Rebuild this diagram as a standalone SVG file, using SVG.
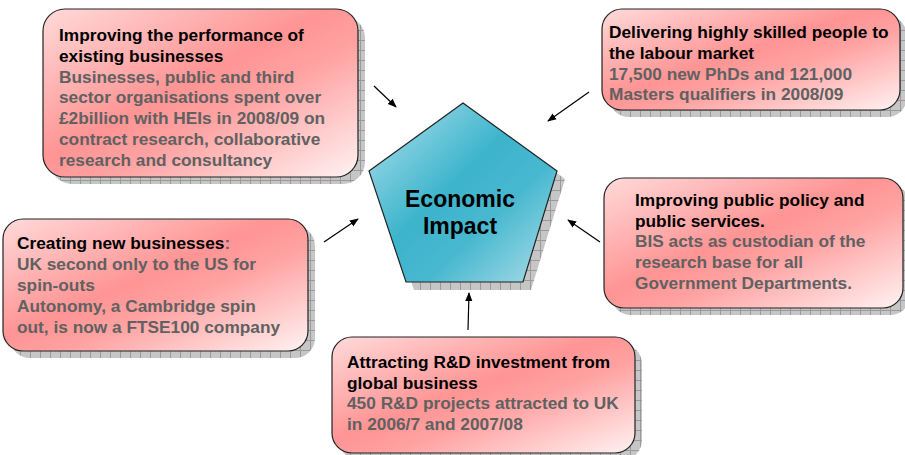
<svg xmlns="http://www.w3.org/2000/svg" width="905" height="455" viewBox="0 0 905 455">
<defs>
<linearGradient id="pink" x1="0" y1="0" x2="1" y2="1">
<stop offset="0" stop-color="#ffdada"/>
<stop offset="0.45" stop-color="#ff9494"/>
<stop offset="0.6" stop-color="#ffa2a2"/>
<stop offset="1" stop-color="#fff2f2"/>
</linearGradient>
<linearGradient id="teal" x1="0" y1="0" x2="1" y2="1">
<stop offset="0" stop-color="#b4e2ec"/>
<stop offset="0.45" stop-color="#3cb4cc"/>
<stop offset="0.65" stop-color="#48b8cf"/>
<stop offset="1" stop-color="#b0dfe9"/>
</linearGradient>
<pattern id="hatch" width="10" height="10" patternUnits="userSpaceOnUse">
<rect width="10" height="10" fill="#c6c6c6"/>
<path d="M0 0.5H10M0.5 0V10" stroke="#9a9a9a" stroke-width="1"/>
</pattern>
<marker id="ah" viewBox="0 0 10 10" refX="9" refY="5" markerWidth="9" markerHeight="9" markerUnits="userSpaceOnUse" orient="auto">
<path d="M0 1L10 5L0 9Z" fill="#000"/>
</marker>
</defs>
<style>
.box{fill:url(#pink);stroke:#222;stroke-width:1.2}
.sh{fill:url(#hatch)}
text{font-family:"Liberation Sans",Arial,sans-serif;font-weight:bold;font-size:17.3px}
.h{fill:#000}
.b{fill:#616161}
.arr{stroke:#000;stroke-width:1.2;fill:none;marker-end:url(#ah)}
</style>
<g id="connectors">
<line class="arr" x1="374" y1="86" x2="396" y2="107"/>
<line class="arr" x1="589" y1="92" x2="548" y2="121"/>
<line class="arr" x1="600" y1="242" x2="568" y2="220"/>
<line class="arr" x1="324" y1="242" x2="358" y2="219"/>
<line class="arr" x1="468" y1="330" x2="469" y2="293"/>
</g>
<g id="economic-impact">
<polygon class="sh" points="471,111 565,179 531,290 414,290 377,179"/>
<polygon points="463,103 557,171 523,282 406,282 369,171" fill="url(#teal)" stroke="#222" stroke-width="1.2"/>
<text x="460" y="207" text-anchor="middle" style="font-size:23px" class="h">Economic</text>
<text x="460" y="234" text-anchor="middle" style="font-size:23px" class="h">Impact</text>
</g>
<g id="existing-businesses">
<rect class="sh" x="50" y="16" width="315" height="168" rx="22"/>
<rect class="box" x="43" y="9" width="315" height="168" rx="22"/>
<text x="59" y="41" class="h">Improving the performance of</text>
<text x="59" y="62" class="h">existing businesses</text>
<text x="59" y="83" class="b">Businesses, public and third</text>
<text x="59" y="103" class="b">sector organisations spent over</text>
<text x="59" y="124" class="b">£2billion with HEIs in 2008/09 on</text>
<text x="59" y="145" class="b">contract research, collaborative</text>
<text x="59" y="166" class="b">research and consultancy</text>
</g>
<g id="skilled-people">
<rect class="sh" x="609" y="16" width="298" height="101" rx="20"/>
<rect class="box" x="602" y="9" width="298" height="101" rx="20"/>
<text x="609" y="38" class="h">Delivering highly skilled people to</text>
<text x="609" y="59" class="h">the labour market</text>
<text x="609" y="80" class="b">17,500 new PhDs and 121,000</text>
<text x="609" y="100" class="b">Masters qualifiers in 2008/09</text>
</g>
<g id="new-businesses">
<rect class="sh" x="10" y="226" width="305" height="132" rx="20"/>
<rect class="box" x="3" y="219" width="305" height="132" rx="20"/>
<text x="17" y="249"><tspan class="h">Creating new businesses</tspan><tspan class="b">:</tspan></text>
<text x="17" y="270" class="b">UK second only to the US for</text>
<text x="17" y="291" class="b">spin-outs</text>
<text x="17" y="312" class="b">Autonomy, a Cambridge spin</text>
<text x="17" y="333" class="b">out, is now a FTSE100 company</text>
</g>
<g id="public-policy">
<rect class="sh" x="611" y="185" width="299" height="130" rx="20"/>
<rect class="box" x="604" y="178" width="299" height="130" rx="20"/>
<text x="635" y="206" class="h">Improving public policy and</text>
<text x="635" y="227" class="h">public services.</text>
<text x="635" y="247" class="b">BIS acts as custodian of the</text>
<text x="635" y="268" class="b">research base for all</text>
<text x="635" y="289" class="b">Government Departments.</text>
</g>
<g id="rd-investment">
<rect class="sh" x="339" y="344" width="303" height="116" rx="20"/>
<rect class="box" x="332" y="337" width="303" height="116" rx="20"/>
<text x="347" y="368" class="h">Attracting R&amp;D investment from</text>
<text x="347" y="389" class="h">global business</text>
<text x="347" y="409" class="b">450 R&amp;D projects attracted to UK</text>
<text x="347" y="430" class="b">in 2006/7 and 2007/08</text>
</g>
</svg>
